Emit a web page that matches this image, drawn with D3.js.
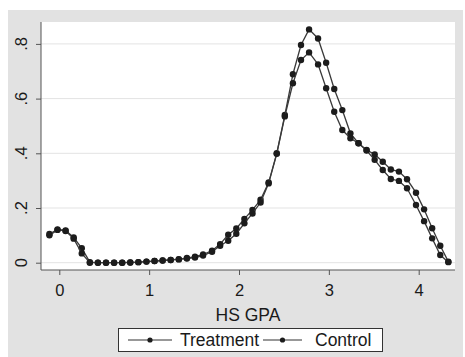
<!DOCTYPE html>
<html>
<head>
<meta charset="utf-8">
<script src="https://cdn.jsdelivr.net/npm/d3@7/dist/d3.min.js"></script>
<style>
  html, body { margin: 0; padding: 0; background: #ffffff; }
  svg { display: block; font-family: "Liberation Sans", Arial, sans-serif; }
</style>
</head>
<body>
<svg id="chart" width="465" height="357"></svg>
<script>
// ---- data ----
const gpa = [-0.11, -0.02, 0.07, 0.16, 0.25, 0.34, 0.43, 0.52, 0.61, 0.70,
             0.79, 0.88, 0.97, 1.06, 1.15, 1.24, 1.33, 1.42, 1.51, 1.60,
             1.70, 1.79, 1.88, 1.97, 2.06, 2.15, 2.24, 2.33, 2.42, 2.51,
             2.60, 2.69, 2.78, 2.88, 2.97, 3.06, 3.15, 3.24, 3.33, 3.42,
             3.51, 3.60, 3.69, 3.78, 3.87, 3.97, 4.06, 4.15, 4.24, 4.33];
const treatment = [0.105, 0.122, 0.118, 0.092, 0.053, 0.002, 0, 0, 0, 0,
                   0.001, 0.002, 0.004, 0.006, 0.008, 0.010, 0.013, 0.017, 0.022, 0.030,
                   0.044, 0.068, 0.102, 0.125, 0.160, 0.193, 0.230, 0.293, 0.400, 0.540,
                   0.689, 0.796, 0.853, 0.820, 0.731, 0.635, 0.558, 0.473, 0.437, 0.412,
                   0.396, 0.369, 0.341, 0.333, 0.305, 0.256, 0.195, 0.126, 0.062, 0.004];
const control = [0.100, 0.120, 0.116, 0.088, 0.034, 0, 0, 0, 0, 0,
                 0.001, 0.002, 0.004, 0.006, 0.008, 0.010, 0.012, 0.015, 0.019, 0.026,
                 0.040, 0.062, 0.080, 0.106, 0.144, 0.180, 0.220, 0.290, 0.398, 0.535,
                 0.656, 0.741, 0.769, 0.725, 0.638, 0.552, 0.485, 0.455, 0.437, 0.410,
                 0.376, 0.339, 0.306, 0.299, 0.272, 0.211, 0.152, 0.089, 0.028, 0.002];
const seriesNames = ["Treatment", "Control"];
const xTicks = [0, 1, 2, 3, 4];
const yTicks = [0, 0.2, 0.4, 0.6, 0.8];
const yTickLabels = ["0", ".2", ".4", ".6", ".8"];
const xTitle = "HS GPA";

// ---- layout ----
const svg = d3.select("#chart");
const plot = { left: 41, right: 455, top: 22, bottom: 270 };

// outer grey background
svg.append("rect").attr("x", 8).attr("y", 10).attr("width", 455).attr("height", 347)
  .attr("fill", "#e2e2e2");
// plot region
svg.append("rect").attr("x", plot.left).attr("y", plot.top)
  .attr("width", plot.right - plot.left).attr("height", plot.bottom - plot.top)
  .attr("fill", "#ffffff");

const x = d3.scaleLinear().domain([0, 4]).range([59.3, 418.7]);
const y = d3.scaleLinear().domain([0, 0.8]).range([262.7, 43.9]);

// gridlines
svg.append("g").selectAll("line").data(yTicks).join("line")
  .attr("x1", plot.left).attr("x2", plot.right)
  .attr("y1", d => y(d)).attr("y2", d => y(d))
  .attr("stroke", "#e3e3e3").attr("stroke-width", 1);

// y axis
const yAxis = svg.append("g").attr("transform", `translate(${plot.left},0)`)
  .call(d3.axisLeft(y).tickValues(yTicks).tickSize(5).tickFormat(""));
yAxis.select(".domain").attr("d", `M0,${plot.top}V${plot.bottom}`);
yAxis.selectAll("path, line").attr("stroke", "#555");
svg.append("g").selectAll("text").data(yTicks).join("text")
  .attr("transform", d => `translate(27,${y(d)}) rotate(-90)`)
  .attr("text-anchor", "middle")
  .attr("font-size", 16.5).attr("fill", "#1a1a1a")
  .text((d, i) => yTickLabels[i]);

// x axis
const xAxis = svg.append("g").attr("transform", `translate(0,${plot.bottom})`)
  .call(d3.axisBottom(x).tickValues(xTicks).tickSize(5).tickPadding(9)
        .tickFormat(d3.format("d")));
xAxis.select(".domain").attr("d", `M${plot.left},0H${plot.right}`);
xAxis.selectAll("path, line").attr("stroke", "#555");
xAxis.selectAll("text").attr("font-size", 16.5).attr("fill", "#1a1a1a")
  .attr("font-family", "Liberation Sans, Arial, sans-serif");

// x title
svg.append("text").attr("x", (plot.left + plot.right) / 2).attr("y", 321)
  .attr("text-anchor", "middle").attr("font-size", 17.5).attr("fill", "#1a1a1a")
  .text(xTitle);

// series
const line = d3.line().x(d => x(d[0])).y(d => y(d[1]));
[treatment, control].forEach(vals => {
  const pts = gpa.map((g, i) => [g, vals[i]]);
  svg.append("path").datum(pts).attr("d", line)
    .attr("fill", "none").attr("stroke", "#3a3a3a").attr("stroke-width", 1.3);
  svg.append("g").selectAll("circle").data(pts).join("circle")
    .attr("cx", d => x(d[0])).attr("cy", d => y(d[1])).attr("r", 3.2)
    .attr("fill", "#1c1c1c");
});

// legend
const lg = svg.append("g");
lg.append("rect").attr("x", 118.5).attr("y", 328.5).attr("width", 264).attr("height", 23)
  .attr("fill", "#ffffff").attr("stroke", "#333").attr("stroke-width", 1);
const items = [{ x0: 128, x1: 172, tx: 180 }, { x0: 263, x1: 302, tx: 315 }];
seriesNames.forEach((name, i) => {
  const it = items[i];
  lg.append("line").attr("x1", it.x0).attr("x2", it.x1).attr("y1", 340).attr("y2", 340)
    .attr("stroke", "#333").attr("stroke-width", 1.2);
  lg.append("circle").attr("cx", (it.x0 + it.x1) / 2).attr("cy", 340).attr("r", 2.6)
    .attr("fill", "#1c1c1c");
  lg.append("text").attr("x", it.tx).attr("y", 346).attr("font-size", 17.5)
    .attr("fill", "#1a1a1a").text(name);
});
</script>
</body>
</html>
